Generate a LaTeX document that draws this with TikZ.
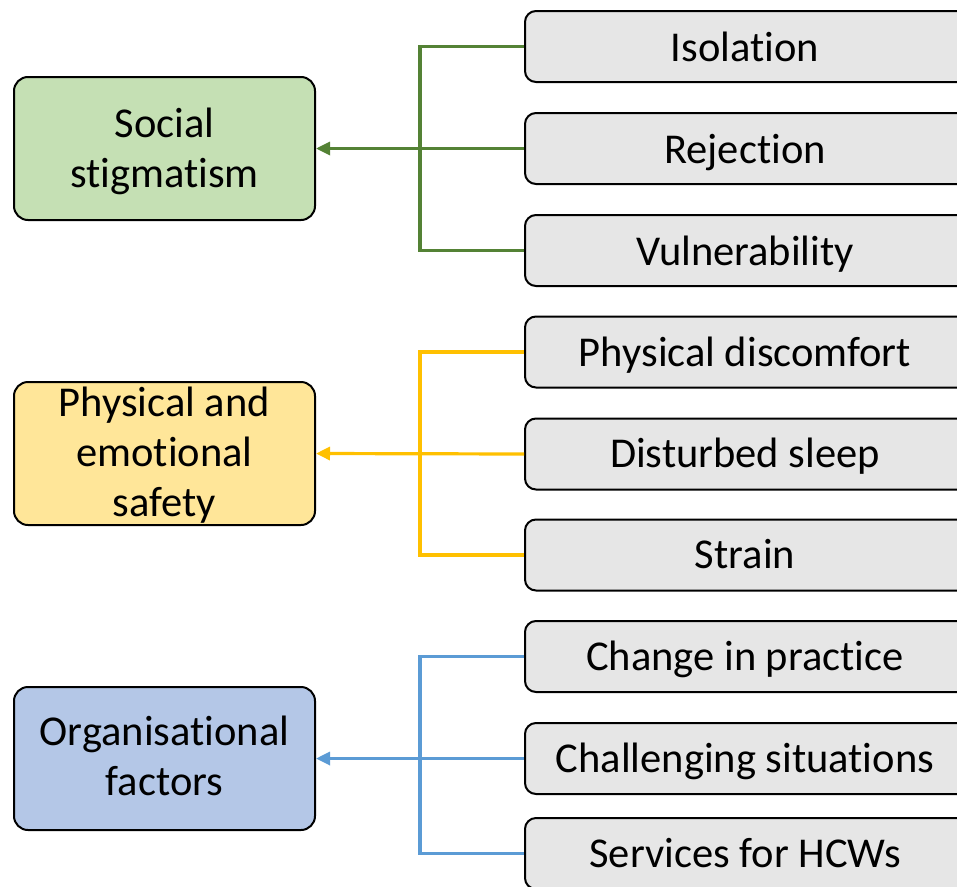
\documentclass[tikz,border=0pt]{standalone}
\usepackage{fontspec}
\setmainfont[Ligatures=NoCommon]{Carlito}
\usetikzlibrary{arrows.meta}
\definecolor{gfill}{HTML}{C5E0B4}
\definecolor{yfill}{HTML}{FFE699}
\definecolor{bfill}{HTML}{B4C7E7}
\definecolor{grayfill}{HTML}{E6E6E6}
\definecolor{gline}{HTML}{548235}
\definecolor{yline}{HTML}{FFC000}
\definecolor{bline}{HTML}{5B9BD5}
\begin{document}
\begin{tikzpicture}[x=1pt,y=-1pt,
  mainbox/.style={draw=black,line width=2pt,rounded corners=14pt,minimum width=301pt,minimum height=143pt,inner sep=0pt},
  subbox/.style={draw=black,line width=2pt,fill=grayfill,rounded corners=11pt,minimum width=450pt,minimum height=71pt,inner sep=0pt},
  txt/.style={font=\fontsize{42.5}{50}\selectfont,inner sep=0pt,anchor=base},
  link/.style={line width=3.2pt},
  arr/.style={line width=3.2pt,-{Triangle[length=14pt,width=13pt]}}]
\useasboundingbox (0,0) rectangle (957,886);
% main boxes
\node[mainbox,fill=gfill] (m1) at (164.5,148.5) {};
\node[mainbox,fill=yfill] (m2) at (164.5,453.5) {};
\node[mainbox,fill=bfill] (m3) at (164.5,758.5) {};
\node[txt] (m1a) at (164.5,137.5) {Social};
\node[txt] (m1b) at (164.5,187.5) {stigmatism};
\node[txt] (m2a) at (164.5,416.5) {Physical and};
\node[txt] (m2b) at (164.5,466.5) {emotional};
\node[txt] (m2c) at (164.5,516.5) {safety};
\node[txt] (m3a) at (164.5,745) {Organisational};
\node[txt] (m3b) at (164.5,795) {factors};
% sub boxes (left edge at x=524, right edge beyond the picture)
\foreach \n/\yy in {s1/46.5,s2/148.5,s3/250.5,s4/352,s5/454,s6/555,s7/656.5,s8/758.5,s9/853.5}{
  \node[subbox,anchor=west] (\n) at (524,\yy) {};
}
\node[txt] (t1) at (745,61.5) {Isolation};
\node[txt] (t2) at (745,163.3) {Rejection};
\node[txt] (t3) at (745,265) {Vulnerability};
\node[txt] (t4) at (745,366) {Physical discomfort};
\node[txt] (t5) at (745,467) {Disturbed sleep};
\node[txt] (t6) at (745,568) {Strain};
\node[txt] (t7) at (745,670.5) {Change in practice};
\node[txt] (t8) at (745,772.5) {Challenging situations};
\node[txt] (t9) at (745,867.5) {Services for HCWs};
% connectors
\coordinate (g) at (420,0);
\draw[link,gline] (s1.west) -| (g |- s1.west) -- (g |- s3.west) -- (s3.west);
\draw[arr,gline] (s2.west) -- (m1.east);
\draw[link,yline] (s4.west) -| (g |- s4.west) -- (g |- s6.west) -- (s6.west);
\draw[arr,yline] (s5.west) -- (m2.east);
\draw[link,bline] (s7.west) -| (g |- s7.west) -- (g |- s9.west) -- (s9.west);
\draw[arr,bline] (s8.west) -- (m3.east);
\end{tikzpicture}
\end{document}
